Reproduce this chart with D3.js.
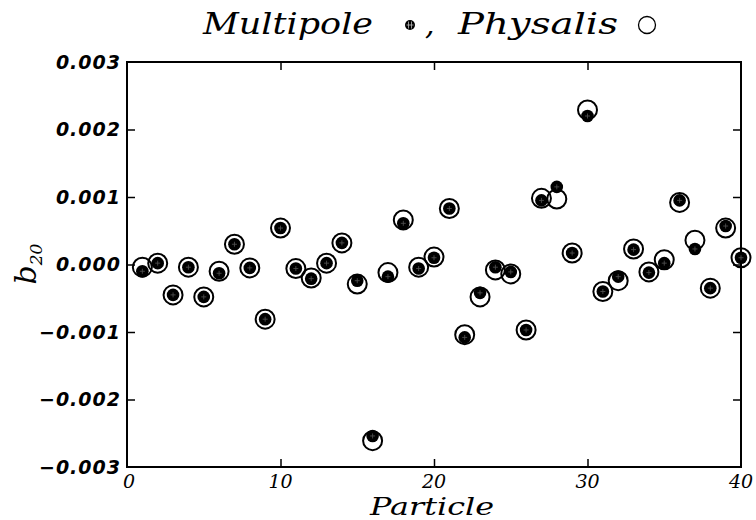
<!DOCTYPE html>
<html><head><meta charset="utf-8">
<script src="https://cdn.jsdelivr.net/npm/d3@7"></script>
<style>body{margin:0;background:#fff}svg{display:block}</style>
</head><body>
<script>
const particles = [1,2,3,4,5,6,7,8,9,10,11,12,13,14,15,16,17,18,19,20,21,22,23,24,25,26,27,28,29,30,31,32,33,34,35,36,37,38,39,40];
const multipole = [-0.10,0.02,-0.45,-0.04,-0.48,-0.13,0.30,-0.05,-0.81,0.54,-0.06,-0.21,0.02,0.32,-0.24,-2.54,-0.18,0.61,-0.06,0.10,0.83,-1.08,-0.42,-0.04,-0.11,-0.97,0.95,1.15,0.17,2.20,-0.40,-0.18,0.22,-0.12,0.02,0.95,0.23,-0.35,0.57,0.10].map(v=>v*1e-3);
const physalis = [-0.04,0.02,-0.45,-0.04,-0.48,-0.10,0.30,-0.05,-0.81,0.54,-0.06,-0.20,0.02,0.32,-0.29,-2.61,-0.12,0.66,-0.04,0.11,0.83,-1.04,-0.48,-0.08,-0.14,-0.97,0.98,0.97,0.17,2.29,-0.40,-0.24,0.23,-0.11,0.07,0.92,0.36,-0.35,0.54,0.10].map(v=>v*1e-3);
const xTicks = [0,10,20,30,40];
const yTicks = [-0.003,-0.002,-0.001,0,0.001,0.002,0.003];
const yTickLabels = ["\u22120.003","\u22120.002","\u22120.001","0.000","0.001","0.002","0.003"];

const W=756,H=520;
const L=127,R=741,T=62,B=467;
const svg=d3.select("body").append("svg").attr("width",W).attr("height",H);
const x=d3.scaleLinear().domain([0,40]).range([L,R]);
const y=d3.scaleLinear().domain([-0.003,0.003]).range([B,T]);
const serif="'DejaVu Serif', serif";

// frame
svg.append("rect").attr("x",L).attr("y",T).attr("width",R-L).attr("height",B-T)
  .attr("fill","none").attr("stroke","#000").attr("stroke-width",2);

// axes (ticks inward)
const gx=svg.append("g").attr("transform",`translate(0,${B})`)
  .call(d3.axisTop(x).tickValues(xTicks.slice(1,-1)).tickSize(8).tickFormat(""));
const gxt=svg.append("g").attr("transform",`translate(0,${T})`)
  .call(d3.axisBottom(x).tickValues(xTicks.slice(1,-1)).tickSize(8).tickFormat(""));
const gy=svg.append("g").attr("transform",`translate(${L},0)`)
  .call(d3.axisRight(y).tickValues(yTicks.slice(1,-1)).tickSize(8).tickFormat(""));
const gyr=svg.append("g").attr("transform",`translate(${R},0)`)
  .call(d3.axisLeft(y).tickValues(yTicks.slice(1,-1)).tickSize(8).tickFormat(""));
[gx,gxt,gy,gyr].forEach(g=>{g.select(".domain").remove();g.selectAll("line").attr("stroke","#000").attr("stroke-width",1.5);});

// x tick labels
svg.append("g").selectAll("text").data(xTicks).join("text")
  .attr("x",d=>x(d)+ (d===0?2:0)).attr("y",488)
  .attr("text-anchor","middle").attr("font-family",serif).attr("font-style","italic")
  .attr("font-size",19).text(d=>d);

// y tick labels
svg.append("g").selectAll("text").data(yTicks).join("text")
  .attr("x",121).attr("y",d=>y(d)).attr("dy","0.36em")
  .attr("text-anchor","end").attr("font-family","'DejaVu Sans', sans-serif")
  .attr("font-style","italic").attr("font-weight","bold").attr("font-size",19)
  .attr("letter-spacing",1)
  .text((d,i)=>yTickLabels[i]);

// axis titles
svg.append("text").attr("x",432).attr("y",515).attr("text-anchor","middle")
  .attr("font-family",serif).attr("font-style","italic").attr("font-size",24)
  .attr("textLength",124).attr("lengthAdjust","spacingAndGlyphs").text("Particle");
const yl=svg.append("text").attr("transform","translate(36,264) rotate(-90)")
  .attr("text-anchor","middle").attr("font-family",serif).attr("font-style","italic").attr("font-size",30);
yl.append("tspan").text("b");
yl.append("tspan").attr("font-size",17).attr("dy",6).text("20");

// title
svg.append("text").attr("x",203).attr("y",34).attr("font-family",serif).attr("font-style","italic")
  .attr("font-size",30).attr("textLength",170).attr("lengthAdjust","spacingAndGlyphs").text("Multipole");
svg.append("text").attr("x",425).attr("y",34).attr("font-family",serif).attr("font-style","italic")
  .attr("font-size",30).text(",");
svg.append("text").attr("x",458).attr("y",34).attr("font-family",serif).attr("font-style","italic")
  .attr("font-size",30).attr("textLength",160).attr("lengthAdjust","spacingAndGlyphs").text("Physalis");
const ts=svg.append("g").attr("transform","translate(410,25)");
ts.append("circle").attr("r",5).attr("fill","#000");
ts.append("path").attr("d","M-1.5,-3.5V3.5M1.5,-3.5V3.5M-3.5,0H3.5").attr("stroke","#bbb").attr("stroke-width",0.8);
svg.append("circle").attr("cx",647).attr("cy",25).attr("r",8.5).attr("fill","none").attr("stroke","#000").attr("stroke-width",1.3);

// data: open circles (Physalis)
svg.append("g").selectAll("circle").data(particles).join("circle")
  .attr("cx",(d)=>x(d)).attr("cy",(d,i)=>y(physalis[i])).attr("r",9.5)
  .attr("fill","none").attr("stroke","#000").attr("stroke-width",2);

// data: filled (Multipole)
const gm=svg.append("g").selectAll("g").data(particles).join("g")
  .attr("transform",(d,i)=>`translate(${x(d)},${y(multipole[i])})`);
gm.append("circle").attr("r",6.3).attr("fill","#000");
gm.append("path").attr("d","M-2.5,0H2.5M0,-2.5V2.5").attr("stroke","#555").attr("stroke-width",0.8);
</script>
</body></html>
